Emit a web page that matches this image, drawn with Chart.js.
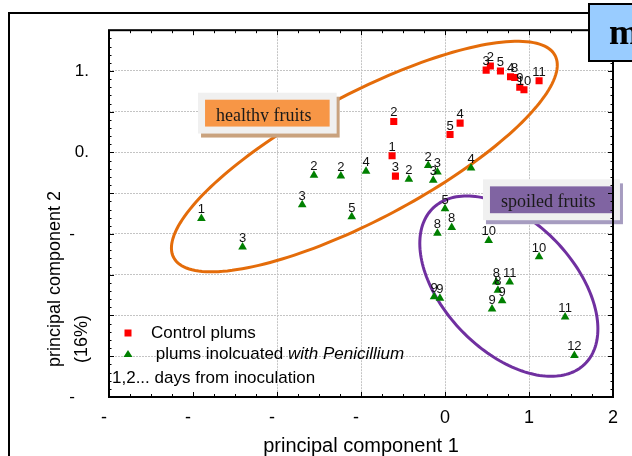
<!DOCTYPE html>
<html>
<head>
<meta charset="utf-8">
<title>PCA plums</title>
<script src="https://cdn.jsdelivr.net/npm/chart.js@4.4.0/dist/chart.umd.min.js"></script>
<style>
  html, body { margin: 0; padding: 0; background: #fff; }
  #mycanvas { display: block; }
</style>
</head>
<body>
<canvas id="mycanvas" width="632" height="456"></canvas>
<script>
// control plums (red squares), label = days from inoculation
var controlX = [0.49, 0.54, 0.66, 0.78, 0.83, 0.89, 0.94, 1.12, -0.61, 0.18, 0.06, -0.63, -0.59];
var controlY = [1.01, 1.06, 1.00, 0.93, 0.92, 0.80, 0.77, 0.88, 0.38, 0.36, 0.22, -0.04, -0.29];
var controlDays = ['3', '2', '5', '4', '8', '9', '10', '11', '2', '4', '5', '1', '3'];

// plums inoculated with Penicillium (green triangles)
var penX = [-2.90, -2.41, -1.70, -1.56, -1.24, -0.94, -0.43, -0.20, -0.09, -0.14, 0.31, -1.11, 0.00,
            -0.09, 0.08, 0.52, 1.12, 0.61, 0.63, 0.68, 0.56, 0.77, -0.13, -0.06, 1.43, 1.54];
var penY = [-0.81, -1.16, -0.64, -0.28, -0.29, -0.23, -0.33, -0.16, -0.24, -0.34, -0.19, -0.79, -0.69,
            -0.99, -0.92, -1.08, -1.28, -1.59, -1.69, -1.82, -1.92, -1.59, -1.77, -1.79, -2.02, -2.49];
var penDays = ['1', '3', '3', '2', '2', '4', '2', '2', '3', '3', '4', '5', '5',
               '8', '8', '10', '10', '8', '8', '9', '9', '11', '9', '9', '11', '12'];

// tick labels as they appear on the figure
var xTickValues = [-4, -3, -2, -1, 0, 1, 2];
var xTickLabels = ['-  ', '-  ', '-  ', '-  ', '0', '1', '2'];
var yTickValues = [1, 0, -1, -3];
var yTickLabels = ['1.', '0.', '-   ', '-   '];

// group outlines (data units: centre, half major axis, half minor axis)
var healthyEllipse = { cx: -0.96, cy: -0.05, ax: 2.27, ay: 1.24, bx: 0.35, by: -0.68, color: '#E46C0A' };
var spoiledEllipse = { cx: 0.76, cy: -1.64, ax: 0.90, ay: -0.96, bx: -0.56, by: -0.55, color: '#7030A0' };
var healthyNote = { x0: -2.94, y0: 0.733, x1: -1.29, y1: 0.232, text: 'healthy fruits', fill: '#F79646', shadow: '#c9a27e', clipH: 22 };
var spoiledNote = { x0: 0.452, y0: -0.330, x1: 2.083, y1: -0.831, text: 'spoiled fruits', fill: '#8064A2', shadow: '#a69cc0', clipH: 27 };

var sans = '"Liberation Sans", Arial, sans-serif';
var serif = '"Liberation Serif", "Times New Roman", serif';

function toPoints(xs, ys) {
	var pts = [];
	for (var i in xs) {
		pts.push({ x: xs[i], y: ys[i] });
	}
	return pts;
}

function pix(chart, x, y) {
	return [chart.scales.x.getPixelForValue(x), chart.scales.y.getPixelForValue(y)];
}

function drawEllipse(chart, e) {
	var ctx = chart.ctx;
	ctx.beginPath();
	for (var i = 0; i <= 180; i++) {
		var t = i / 180 * 2 * Math.PI;
		var p = pix(chart, e.cx + e.ax * Math.cos(t) + e.bx * Math.sin(t),
		                   e.cy + e.ay * Math.cos(t) + e.by * Math.sin(t));
		if (i === 0) ctx.moveTo(p[0], p[1]); else ctx.lineTo(p[0], p[1]);
	}
	ctx.closePath();
	ctx.strokeStyle = e.color;
	ctx.lineWidth = 3;
	ctx.stroke();
}

function drawNote(chart, n) {
	var ctx = chart.ctx;
	var a = pix(chart, n.x0, n.y0), b = pix(chart, n.x1, n.y1);
	var w = b[0] - a[0], h = b[1] - a[1];
	ctx.fillStyle = n.shadow;
	ctx.fillRect(a[0] + 3, a[1] + 4, w, h);
	ctx.fillStyle = '#f0f0f0';
	ctx.fillRect(a[0], a[1], w, h);
	ctx.fillStyle = n.fill;
	ctx.fillRect(a[0] + 7, a[1] + 7, w - 14, h - 14);
	ctx.save();
	ctx.beginPath();
	ctx.rect(a[0] + 7, a[1] + 7, w - 14, n.clipH);
	ctx.clip();
	ctx.fillStyle = '#1a1a1a';
	ctx.font = '18px ' + serif;
	ctx.textAlign = 'left';
	ctx.textBaseline = 'alphabetic';
	ctx.fillText(n.text, a[0] + 18, a[1] + 28);
	ctx.restore();
}

function line(ctx, x1, y1, x2, y2) {
	ctx.beginPath();
	ctx.moveTo(x1, y1);
	ctx.lineTo(x2, y2);
	ctx.stroke();
}

var decor = {
	id: 'decor',
	beforeDatasetsDraw: function(chart) {
		var ctx = chart.ctx;
		ctx.save();
		drawEllipse(chart, healthyEllipse);
		drawEllipse(chart, spoiledEllipse);
		drawNote(chart, healthyNote);
		drawNote(chart, spoiledNote);
		ctx.restore();
	},
	afterDatasetsDraw: function(chart) {
		var ctx = chart.ctx;
		var ca = chart.chartArea;
		var xs = chart.scales.x, ys = chart.scales.y;
		ctx.save();

		// day labels above the points
		var dayLists = [controlDays, penDays];
		ctx.font = '13px ' + sans;
		ctx.fillStyle = '#111';
		ctx.textAlign = 'center';
		ctx.textBaseline = 'alphabetic';
		for (var d = 0; d < 2; d++) {
			chart.getDatasetMeta(d).data.forEach(function(el, j) {
				ctx.fillText(dayLists[d][j], el.x, el.y - 5);
			});
		}

		// minor ticks, pointing inwards
		ctx.strokeStyle = '#000';
		ctx.lineWidth = 1;
		for (var v = -30; v <= 15; v++) {
			var yy = Math.round(ys.getPixelForValue(v / 10)) + 0.5;
			var len = (v % 5 === 0) ? 5 : 2.5;
			line(ctx, ca.left, yy, ca.left + len, yy);
			line(ctx, ca.right, yy, ca.right - len, yy);
		}
		for (var k = -16; k <= 8; k++) {
			var xx = Math.round(xs.getPixelForValue(k / 4)) + 0.5;
			var len2 = (k % 4 === 0) ? 5 : 3;
			line(ctx, xx, ca.bottom, xx, ca.bottom - len2);
			line(ctx, xx, ca.top, xx, ca.top + len2);
		}
		ctx.lineWidth = 2;
		ctx.strokeRect(ca.left, ca.top, ca.right - ca.left, ca.bottom - ca.top);

		// legend inside the plot
		var r1 = ca.bottom - 64, r2 = ca.bottom - 43, r3 = ca.bottom - 19;
		var mx = ca.left + 19;
		ctx.fillStyle = chart.data.datasets[0].backgroundColor;
		ctx.fillRect(mx - 3.5, r1 - 3.5, 7, 7);
		ctx.fillStyle = chart.data.datasets[1].backgroundColor;
		ctx.beginPath();
		ctx.moveTo(mx, r2 - 4);
		ctx.lineTo(mx + 4.5, r2 + 3);
		ctx.lineTo(mx - 4.5, r2 + 3);
		ctx.closePath();
		ctx.fill();
		ctx.fillStyle = '#000';
		ctx.textAlign = 'left';
		ctx.textBaseline = 'middle';
		ctx.font = '17px ' + sans;
		ctx.fillText('Control plums', ca.left + 42, r1);
		var part = ' plums inolcuated ';
		ctx.fillText(part, ca.left + 42, r2);
		var wPart = ctx.measureText(part).width;
		ctx.font = 'italic 17px ' + sans;
		ctx.fillText('with Penicillium', ca.left + 42 + wPart, r2);
		ctx.font = '17px ' + sans;
		ctx.fillText('1,2... days from inoculation', ca.left + 3, r3);

		// y axis title, two lines starting at the same height
		ctx.font = '18px ' + sans;
		ctx.save();
		ctx.translate(55, 367);
		ctx.rotate(-Math.PI / 2);
		ctx.fillText('principal component 2', 0, 0);
		ctx.restore();
		ctx.save();
		ctx.translate(82, 363);
		ctx.rotate(-Math.PI / 2);
		ctx.fillText('(16%)', 0, 0);
		ctx.restore();

		// outer frame of the slide
		ctx.lineWidth = 2;
		line(ctx, 8, 13, 590, 13);
		line(ctx, 9, 12, 9, 456);

		// blue title box cut off at the right edge
		ctx.fillStyle = '#99CCFF';
		ctx.fillRect(589, 4, 60, 57);
		ctx.strokeRect(589, 4, 60, 57);
		ctx.fillStyle = '#000';
		ctx.font = 'bold 36px ' + serif;
		ctx.textBaseline = 'alphabetic';
		ctx.fillText('m', 609, 44);

		ctx.restore();
	}
};

var chartdata = {
	datasets: [
		{
			label: 'Control plums',
			data: toPoints(controlX, controlY),
			pointStyle: 'rect',
			pointRadius: 5,
			backgroundColor: '#FF0000',
			borderColor: '#FF0000',
			borderWidth: 0
		},
		{
			label: 'plums inolcuated with Penicillium',
			data: toPoints(penX, penY),
			pointStyle: 'triangle',
			pointRadius: 5,
			backgroundColor: '#008000',
			borderColor: '#008000',
			borderWidth: 0
		}
	]
};

var ctx = document.getElementById('mycanvas');

var scatter = new Chart(ctx, {
	type: 'scatter',
	data: chartdata,
	plugins: [decor],
	options: {
		responsive: false,
		animation: false,
		events: [],
		layout: { padding: { top: 29, right: 19, left: 0, bottom: 0 } },
		plugins: {
			legend: { display: false },
			tooltip: { enabled: false }
		},
		scales: {
			x: {
				type: 'linear',
				min: -4,
				max: 2,
				afterFit: function(scale) { scale.height = 59; },
				afterBuildTicks: function(scale) {
					scale.ticks = xTickValues.map(function(v) { return { value: v }; });
				},
				ticks: {
					autoSkip: false,
					maxRotation: 0,
					padding: 10,
					color: '#000',
					font: { family: sans, size: 18 },
					callback: function(value) {
						var i = xTickValues.indexOf(value);
						return i < 0 ? '' : xTickLabels[i];
					}
				},
				grid: {
					drawTicks: false,
					lineWidth: 1,
					color: function(c) {
						return (c.tick && c.tick.value === -3) ? 'rgba(0,0,0,0)' : '#c4c4c4';
					}
				},
				border: { display: false, dash: [2, 1] },
				title: {
					display: true,
					text: 'principal component 1',
					color: '#000',
					font: { family: sans, size: 20, lineHeight: 1 },
					padding: { top: 0, bottom: 0 }
				}
			},
			y: {
				type: 'linear',
				min: -3,
				max: 1.5,
				afterFit: function(scale) { scale.width = 109; },
				ticks: {
					stepSize: 0.5,
					autoSkip: false,
					padding: 20,
					color: '#000',
					font: { family: sans, size: 17 },
					callback: function(value) {
						for (var i = 0; i < yTickValues.length; i++) {
							if (Math.abs(yTickValues[i] - value) < 1e-6) return yTickLabels[i];
						}
						return '';
					}
				},
				grid: { drawTicks: false, lineWidth: 1, color: '#c4c4c4' },
				border: { display: false, dash: [2, 1] },
				title: { display: false }
			}
		}
	}
});
</script>
</body>
</html>
